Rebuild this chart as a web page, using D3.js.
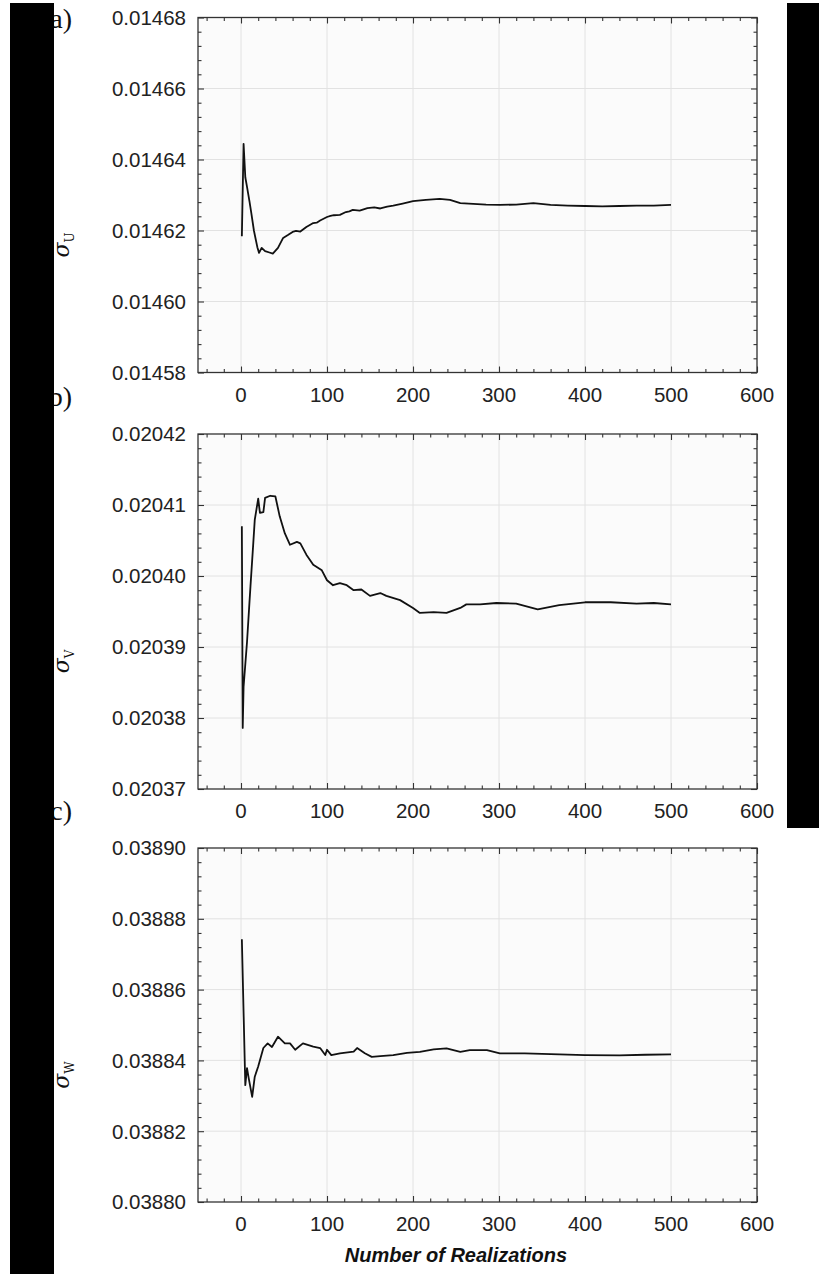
<!DOCTYPE html>
<html>
<head>
<meta charset="utf-8">
<script src="https://cdn.jsdelivr.net/npm/d3@7"></script>
<style>
  html, body { margin: 0; padding: 0; background: #ffffff; }
  svg { display: block; }
</style>
</head>
<body>
<svg id="chart" width="819" height="1274"></svg>
<script>
// Realization counts and running standard deviations of the three velocity components
const realizationsU = [1, 3, 5, 7, 10, 12, 15, 19, 21, 24, 28, 33, 37, 43, 49, 55, 60, 64, 69, 76, 84, 88, 92, 100, 104, 108, 115, 122, 126, 130, 138, 147, 155, 162, 170, 177, 188, 200, 215, 231, 243, 255, 270, 285, 301, 320, 340, 360, 380, 400, 420, 440, 460, 480, 500];
const sigmaU = [0.0146184, 0.0146444, 0.014635, 0.0146323, 0.014628, 0.0146249, 0.014620, 0.0146153, 0.0146137, 0.0146151, 0.0146142, 0.0146138, 0.0146135, 0.0146151, 0.0146179, 0.0146188, 0.0146196, 0.0146199, 0.0146197, 0.014621, 0.0146221, 0.0146222, 0.0146228, 0.0146238, 0.0146241, 0.0146243, 0.0146244, 0.0146252, 0.0146254, 0.0146258, 0.0146256, 0.0146263, 0.0146265, 0.0146262, 0.0146267, 0.014627, 0.0146276, 0.0146283, 0.0146286, 0.0146289, 0.0146286, 0.0146277, 0.0146275, 0.0146273, 0.0146272, 0.0146273, 0.0146277, 0.0146272, 0.014627, 0.0146269, 0.0146268, 0.0146269, 0.014627, 0.014627, 0.0146272];

const realizationsV = [1, 2, 3, 7, 10, 11, 14, 16, 20, 22, 26, 28, 34, 40, 45, 51, 57, 65, 69, 76, 84, 94, 100, 107, 115, 123, 131, 140, 150, 162, 169, 185, 200, 208, 224, 239, 255, 262, 278, 297, 320, 345, 370, 400, 430, 460, 480, 500];
const sigmaV = [0.020407, 0.0203786, 0.0203844, 0.0203907, 0.0203966, 0.0203985, 0.0204041, 0.0204079, 0.0204109, 0.0204089, 0.020409, 0.020411, 0.0204113, 0.0204112, 0.0204084, 0.020406, 0.0204044, 0.0204048, 0.0204046, 0.020403, 0.0204016, 0.0204008, 0.0203994, 0.0203987, 0.020399, 0.0203987, 0.020398, 0.0203981, 0.0203972, 0.0203976, 0.0203972, 0.0203966, 0.0203955, 0.0203948, 0.0203949, 0.0203948, 0.0203955, 0.020396, 0.020396, 0.0203962, 0.0203961, 0.0203953, 0.0203959, 0.0203963, 0.0203963, 0.0203961, 0.0203962, 0.020396];

const realizationsW = [1, 5, 7, 9, 13, 16, 20, 26, 31, 36, 43, 51, 57, 63, 72, 84, 92, 98, 100, 105, 115, 131, 135, 144, 152, 162, 177, 193, 208, 224, 239, 255, 266, 286, 301, 330, 360, 400, 440, 470, 500];
const sigmaW = [0.0388742, 0.038833, 0.0388378, 0.0388349, 0.0388297, 0.0388354, 0.0388383, 0.0388435, 0.0388448, 0.0388438, 0.0388467, 0.0388448, 0.0388448, 0.038843, 0.0388448, 0.0388439, 0.0388435, 0.0388415, 0.038843, 0.0388415, 0.038842, 0.0388425, 0.0388435, 0.038842, 0.038841, 0.0388412, 0.0388415, 0.0388421, 0.0388424, 0.0388431, 0.0388434, 0.0388424, 0.0388429, 0.0388429, 0.038842, 0.038842, 0.0388418, 0.0388415, 0.0388414, 0.0388416, 0.0388417];

// Axis ticks
const xTicks = [0, 100, 200, 300, 400, 500, 600];
const yTicksU = [0.01458, 0.01460, 0.01462, 0.01464, 0.01466, 0.01468];
const yTicksV = [0.02037, 0.02038, 0.02039, 0.02040, 0.02041, 0.02042];
const yTicksW = [0.03880, 0.03882, 0.03884, 0.03886, 0.03888, 0.03890];
const panelLetters = ["a)", "b)", "c)"];
const axisSymbols = ["U", "V", "W"];
const xTitle = "Number of Realizations";

const panels = [
  { xs: realizationsU, ys: sigmaU, ticks: yTicksU, top: 17.5, bottom: 372.5, letterY: 18 },
  { xs: realizationsV, ys: sigmaV, ticks: yTicksV, top: 434, bottom: 789, letterY: 396 },
  { xs: realizationsW, ys: sigmaW, ticks: yTicksW, top: 848, bottom: 1202, letterY: 810 }
];

const svg = d3.select("#chart");
const left = 198, right = 757;
const x = d3.scaleLinear().domain([-50, 600]).range([left, right]);
const xMinor = d3.range(-40, 600, 20).filter(v => v % 100 !== 0);

panels.forEach((p, i) => {
  const lo = p.ticks[0], hi = p.ticks[p.ticks.length - 1];
  const y = d3.scaleLinear().domain([lo, hi]).range([p.bottom, p.top]);
  const step = (p.ticks[1] - p.ticks[0]) / 5;
  const yMinor = d3.range(1, 25).map(k => lo + k * step).filter((v, k) => (k + 1) % 5 !== 0);

  const g = svg.append("g");

  // plot background
  g.append("rect")
    .attr("x", left).attr("y", p.top)
    .attr("width", right - left).attr("height", p.bottom - p.top)
    .attr("fill", "#fbfbfb");

  // grid lines
  g.append("g").selectAll("line").data(xTicks).join("line")
    .attr("x1", d => x(d)).attr("x2", d => x(d))
    .attr("y1", p.top).attr("y2", p.bottom)
    .attr("stroke", "#e2e2e2").attr("stroke-width", 1);
  g.append("g").selectAll("line").data(p.ticks.slice(1, -1)).join("line")
    .attr("x1", left).attr("x2", right)
    .attr("y1", d => y(d)).attr("y2", d => y(d))
    .attr("stroke", "#e2e2e2").attr("stroke-width", 1);

  // inward ticks on all four sides
  const tickColor = "#333";
  const bottomAxis = d3.axisTop(x).tickValues(xTicks).tickSize(6).tickFormat("");
  const bottomMinor = d3.axisTop(x).tickValues(xMinor).tickSize(3.5).tickFormat("");
  const topAxis = d3.axisBottom(x).tickValues(xTicks).tickSize(6).tickFormat("");
  const topMinor = d3.axisBottom(x).tickValues(xMinor).tickSize(3.5).tickFormat("");
  const leftAxis = d3.axisRight(y).tickValues(p.ticks).tickSize(6).tickFormat("");
  const leftMinor = d3.axisRight(y).tickValues(yMinor).tickSize(3.5).tickFormat("");
  const rightAxis = d3.axisLeft(y).tickValues(p.ticks).tickSize(6).tickFormat("");
  const rightMinor = d3.axisLeft(y).tickValues(yMinor).tickSize(3.5).tickFormat("");

  [[bottomAxis, `translate(0,${p.bottom})`], [bottomMinor, `translate(0,${p.bottom})`],
   [topAxis, `translate(0,${p.top})`], [topMinor, `translate(0,${p.top})`],
   [leftAxis, `translate(${left},0)`], [leftMinor, `translate(${left},0)`],
   [rightAxis, `translate(${right},0)`], [rightMinor, `translate(${right},0)`]]
    .forEach(([ax, tr]) => {
      const a = g.append("g").attr("transform", tr).call(ax);
      a.select(".domain").remove();
      a.selectAll("line").attr("stroke", tickColor).attr("stroke-width", 1.1);
    });

  // frame
  g.append("rect")
    .attr("x", left).attr("y", p.top)
    .attr("width", right - left).attr("height", p.bottom - p.top)
    .attr("fill", "none").attr("stroke", "#333").attr("stroke-width", 1.3);

  // tick labels
  g.append("g").selectAll("text").data(p.ticks).join("text")
    .attr("x", left - 12).attr("y", d => y(d)).attr("dy", "0.36em")
    .attr("text-anchor", "end")
    .attr("font-family", "'Liberation Sans', Arial, sans-serif")
    .attr("font-size", 20.5).attr("fill", "#222")
    .text(d => d.toFixed(5));
  g.append("g").selectAll("text").data(xTicks).join("text")
    .attr("x", d => x(d)).attr("y", p.bottom + 22).attr("dy", "0.36em")
    .attr("text-anchor", "middle")
    .attr("font-family", "'Liberation Sans', Arial, sans-serif")
    .attr("font-size", 20.5).attr("fill", "#222")
    .text(d => d);

  // the running standard deviation curve
  const line = d3.line().x(d => x(d[0])).y(d => y(d[1]));
  g.append("path")
    .datum(p.xs.map((n, k) => [n, p.ys[k]]))
    .attr("d", line)
    .attr("fill", "none").attr("stroke", "#111").attr("stroke-width", 1.8)
    .attr("stroke-linejoin", "round");

  // y-axis symbol
  const cy = (p.top + p.bottom) / 2 + 50;
  const lab = g.append("text")
    .attr("transform", `translate(69,${cy}) rotate(-90)`)
    .attr("text-anchor", "middle")
    .attr("font-family", "'DejaVu Serif', 'Liberation Serif', serif")
    .attr("fill", "#111");
  lab.append("tspan").attr("font-style", "italic").attr("font-size", 22).text("σ");
  lab.append("tspan").attr("font-size", 12).attr("dy", 5).text(axisSymbols[i]);

  // panel letter
  g.append("text")
    .attr("x", 72).attr("y", p.letterY).attr("dy", "0.36em")
    .attr("text-anchor", "end")
    .attr("font-family", "'Liberation Serif', 'DejaVu Serif', serif")
    .attr("font-size", 28).attr("fill", "#111")
    .text(panelLetters[i]);
});

// x-axis title
svg.append("text")
  .attr("x", 456).attr("y", 1255).attr("dy", "0.36em")
  .attr("text-anchor", "middle")
  .attr("font-family", "'Liberation Sans', Arial, sans-serif")
  .attr("font-size", 20).attr("font-weight", "bold").attr("font-style", "italic")
  .attr("fill", "#111")
  .text(xTitle);

// dark side bands
svg.append("rect").attr("x", 10).attr("y", 3).attr("width", 44).attr("height", 1271).attr("fill", "#000");
svg.append("rect").attr("x", 787).attr("y", 3).attr("width", 32).attr("height", 825).attr("fill", "#000");
</script>
</body>
</html>
